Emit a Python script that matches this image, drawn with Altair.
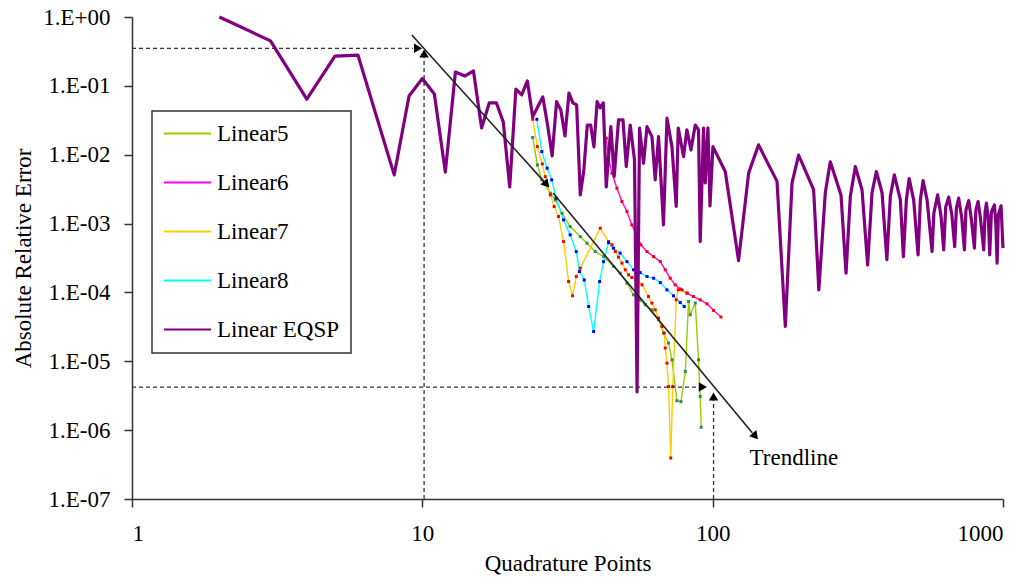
import altair as alt
import pandas as pd

# ---------------- data ----------------
eqsp_n = [2, 3, 4, 5, 6, 8, 9, 10, 11, 12, 13, 14, 15, 16, 17, 18, 19, 20, 21, 22, 23, 24, 25, 26, 27, 28, 29, 30,
          31, 32, 33, 34, 35, 36, 37, 38, 39, 40, 41, 42, 43,
          44.6, 45.8, 47.4, 49.1, 50.4, 52.0, 53.8, 54.9, 56.0, 57.8, 59.4, 61.8, 63.4, 65.1, 67.7, 69.6, 72.4, 74.9,
          76.1, 79.4, 81.5, 84.2, 87.1, 89.4, 90.6, 93.0, 94.3, 96.3, 97.9, 100.2,
          110.5, 122.8, 133.0, 143.9, 166.6, 177.9, 187.6, 197.7, 222.7, 232.1, 244.3, 254.2, 276.7, 288.0, 298.0,
          310.0, 326.9, 341.8, 353.9, 366.2, 383.2, 398.1, 409.3, 422.5, 443.1, 453.8, 464.7, 475.2, 492.4, 509.9,
          519.3, 530.6, 547.7, 569.8,
          578, 595.7, 612, 624.8, 634.8, 650, 666.6, 681.7, 691, 703.7, 721, 736.3, 745.5, 761.9, 778.6, 797.1,
          806.6, 820.8, 836, 858.1, 867.6, 876.7, 890.7, 900, 912, 934.1, 945.2, 954.3, 964, 984.9, 1000]
eqsp_err = [1.0, 0.45, 0.064, 0.27, 0.28, 0.0051, 0.0713, 0.128, 0.0763, 0.0056, 0.159, 0.139, 0.165, 0.0245,
            0.0565, 0.0565, 0.030, 0.0034, 0.090, 0.074, 0.118, 0.0354, 0.05, 0.069, 0.027, 0.0096, 0.059, 0.0447,
            0.0187, 0.0788, 0.0565, 0.0528, 0.0026, 0.006, 0.027, 0.027, 0.013, 0.059, 0.0478, 0.0565, 0.0034,
            0.0256, 0.0048, 0.032, 0.032, 0.0067, 0.027, 0.0084, 3.6e-6, 0.0243, 0.0075, 0.0256, 0.0183, 0.0043,
            0.0183, 0.00096, 0.0339, 0.0131, 0.00177, 0.0243, 0.0094, 0.0229, 0.0117, 0.027, 0.0229, 0.00055,
            0.0243, 0.0039, 0.0245, 0.0018, 0.0131,
            0.0057, 0.00029, 0.0054, 0.0139, 0.0041, 3.2e-5, 0.00386, 0.0099, 0.0031, 0.000109, 0.0028, 0.0079,
            0.0026, 0.00019, 0.0025, 0.0067, 0.0031, 0.00025, 0.0028, 0.0057, 0.0028, 0.0003, 0.0025, 0.0051,
            0.0022, 0.00033, 0.0022, 0.0045, 0.0022, 0.00035, 0.0022, 0.0042, 0.0022, 0.000393,
            0.00143, 0.00261, 0.00126, 0.000415, 0.00174, 0.00242, 0.00134, 0.000463, 0.00168, 0.00234, 0.00121,
            0.000415, 0.00158, 0.00216, 0.00113, 0.00044, 0.00158, 0.00209, 0.00121, 0.000415, 0.00147, 0.00198,
            0.00113, 0.000352, 0.00147, 0.00187, 0.000957, 0.000266, 0.00134, 0.00181, 0.00044]

lin5_n = [24.0, 24.9, 25.8, 27.6, 28.7, 30.3, 32.3, 35.0, 36.9, 39.4, 42.1, 45.6, 48.0, 50.7, 53.4, 56.0, 58.6,
          61.8, 65.1, 67.7, 70.5, 72.4, 75.3, 77.8, 80.5, 82.6, 83.7, 87.1, 89.4, 90.6, 91.3]
lin5_err = [0.0178, 0.00711, 0.00431, 0.00276, 0.00221, 0.00141, 0.000903, 0.000647, 0.000519, 0.000392,
            0.000331, 0.000238, 0.000191, 0.000136, 9.23e-5, 7.81e-5, 6.61e-5, 5.59e-5, 4.0e-5, 2.57e-5,
            1.84e-5, 1.05e-5, 2.67e-6, 2.6e-6, 7.1e-6, 7.37e-5, 4.73e-5, 7.0e-5, 1.05e-5, 3.08e-6, 1.1e-6]

lin6_n = [43.0, 43.8, 45.0, 46.8, 48.7, 50.7, 52.7, 54.6, 56.6, 59.4, 62.6, 66.0, 68.65, 71.4, 74.3, 77.3,
          81.5, 85.9, 90.6, 95.6, 100.7, 106.8]
lin6_err = [0.0174, 0.00889, 0.00539, 0.00326, 0.00209, 0.00149, 0.000957, 0.000686, 0.000491, 0.000392,
            0.000331, 0.00028, 0.000213, 0.000161, 0.000129, 0.000112, 9.77e-5, 8.72e-5, 7.81e-5, 6.83e-5,
            5.46e-5, 4.4e-5]

lin7_n = [24.0, 24.9, 25.9, 26.5, 27.6, 28.45, 29.45, 30.65, 31.9, 32.9, 33.9, 35.0, 41.0, 43.8, 45.0, 46.2,
          47.4, 48.7, 50.0, 51.3, 52.7, 54.9, 57.1, 60.1, 61.8, 63.4, 65.1, 66.9, 68.1, 68.65, 69.6, 70.5, 71.7,
          72.9, 74.9, 76.1, 78.4, 81.7]
lin7_err = [0.0327, 0.0131, 0.00735, 0.00481, 0.00261, 0.00177, 0.00127, 0.000548, 0.000144, 8.93e-5, 0.00017,
            0.000225, 0.000857, 0.000548, 0.000491, 0.000392, 0.000325, 0.000267, 0.000213, 0.00018, 0.000165,
            0.000152, 0.000129, 8.72e-5, 7.0e-5, 5.59e-5, 4.24e-5, 3.2e-5, 2.57e-5, 1.56e-5, 9.4e-6, 4.3e-6,
            3.94e-7, 4.3e-6, 7.81e-5, 0.000109, 0.000109, 9.77e-5]

lin8_n = [24.8, 25.8, 26.9, 27.9, 28.9, 30.65, 32.3, 33.9, 34.8, 36.1, 37.4, 38.9, 40.8, 42.1, 43.8, 45.55, 48.0,
          50.7, 53.4, 56.3, 59.4, 62.6, 66.0, 69.6, 73.3, 77.3, 79.8]
lin8_err = [0.0327, 0.0111, 0.00637, 0.00431, 0.00234, 0.00113, 0.000686, 0.000392, 0.000201, 0.000152, 6.24e-5,
            2.71e-5, 0.000144, 0.00028, 0.00053, 0.000439, 0.000372, 0.00028, 0.000213, 0.000194, 0.00017,
            0.000161, 0.000139, 0.000109, 8.93e-5, 7.13e-5, 6.24e-5]

series_names = ["Linear5", "Linear6", "Linear7", "Linear8", "Linear EQSP"]
line_colors = ["#99CC00", "#FF00FF", "#FFCC00", "#00FFFF", "#800080"]
dot_colors = ["#2E8B57", "#FF0000", "#FF0000", "#0000FF"]

# reading guides (dashed) and trend arrows
guide_id = ["h1", "h1", "v1", "v1", "h2", "h2", "v2", "v2"]
guide_n = [1, 9.28, 10.14, 10.14, 1, 89.2, 100.7, 100.7]
guide_err = [0.351, 0.351, 1e-7, 0.263, 4.22e-6, 4.22e-6, 1e-7, 2.76e-6]

trend_id = ["t1", "t1", "t2", "t2"]
trend_n = [9.2, 26.3, 28.2, 136.9]
trend_err = [0.548, 0.00403, 0.00279, 9.16e-7]

head_n = [9.67, 10.14, 92.5, 100.7, 26.8, 140.3]
head_err = [0.351, 0.295, 4.22e-6, 3.08e-6, 0.00371, 8.16e-7]
head_angle = [0, 270, 0, 270, 48, 50]

label_n = [134.0]
label_err = [3.15e-7]
label_text = ["Trendline"]

# ---------------- tables ----------------
frames = []
for name, ns, es, dc in [("Linear5", lin5_n, lin5_err, dot_colors[0]),
                         ("Linear6", lin6_n, lin6_err, dot_colors[1]),
                         ("Linear7", lin7_n, lin7_err, dot_colors[2]),
                         ("Linear8", lin8_n, lin8_err, dot_colors[3])]:
    f = pd.DataFrame({"N": ns, "err": es})
    f["series"] = name
    f["idx"] = range(len(f))
    f["dot"] = dc
    frames.append(f)
df_lin = pd.concat(frames, ignore_index=True)

df_eq = pd.DataFrame({"N": eqsp_n, "err": eqsp_err})
df_eq["series"] = "Linear EQSP"
df_eq["idx"] = range(len(df_eq))

df_guide = pd.DataFrame({"gid": guide_id, "N": guide_n, "err": guide_err})
df_guide["idx"] = range(len(df_guide))
df_trend = pd.DataFrame({"gid": trend_id, "N": trend_n, "err": trend_err})
df_trend["idx"] = range(len(df_trend))
df_head = pd.DataFrame({"N": head_n, "err": head_err, "angle": head_angle})
df_label = pd.DataFrame({"N": label_n, "err": label_err, "text": label_text})

FONT = "Liberation Serif"

x_enc = alt.X("N:Q",
              scale=alt.Scale(type="log", domain=[1, 1000], nice=False),
              axis=alt.Axis(values=[1, 10, 100, 1000], format="d", title="Quadrature Points",
                            grid=False, tickSize=8, labelPadding=15,
                            titleY=71, titleBaseline="alphabetic"))
y_enc = alt.Y("err:Q",
              scale=alt.Scale(type="log", domain=[1e-7, 1], nice=False),
              axis=alt.Axis(values=[1, 1e-1, 1e-2, 1e-3, 1e-4, 1e-5, 1e-6, 1e-7],
                            labelExpr="datum.value >= 0.99 ? '1.E+00' : '1.E-0' + round(-log(datum.value)/LN10)",
                            title="Absolute Relative Error", grid=False, tickSize=8, labelPadding=14,
                            titleX=-102, titleY=241, titleAngle=270, titleBaseline="alphabetic",
                            titleAlign="center"))

color_scale = alt.Scale(domain=series_names, range=line_colors)
legend = alt.Legend(title=None, orient="none", legendX=20, legendY=94,
                    symbolType="M-2.35,0H2.35", symbolSize=400, symbolStrokeWidth=2.2,
                    symbolOffset=13, labelOffset=18, rowPadding=25, padding=11,
                    labelFont=FONT, labelFontSize=23, labelColor="black", labelLimit=0,
                    strokeColor="#333333", fillColor="white")

lin_lines = alt.Chart(df_lin).mark_line(strokeWidth=1.4, strokeJoin="round").encode(
    x=x_enc, y=y_enc,
    color=alt.Color("series:N", scale=color_scale, legend=legend),
    order="idx:Q")

lin_dots = alt.Chart(df_lin).mark_square(size=9, opacity=1).encode(
    x=x_enc, y=y_enc, color=alt.Color("dot:N", scale=None))

eq_line = alt.Chart(df_eq).mark_line(strokeWidth=3.2, strokeJoin="round").encode(
    x=x_enc, y=y_enc,
    color=alt.Color("series:N", scale=color_scale, legend=legend),
    order="idx:Q")

guides = alt.Chart(df_guide).mark_line(color="#333333", strokeWidth=1.3, strokeDash=[4, 3]).encode(
    x=x_enc, y=y_enc, detail="gid:N", order="idx:Q")

trend = alt.Chart(df_trend).mark_line(color="#222222", strokeWidth=1.6).encode(
    x=x_enc, y=y_enc, detail="gid:N", order="idx:Q")

heads = alt.Chart(df_head).mark_point(shape="triangle-right", filled=True, color="black",
                                      size=90, opacity=1).encode(
    x=x_enc, y=y_enc, angle=alt.Angle("angle:Q", scale=None))

label = alt.Chart(df_label).mark_text(align="left", baseline="alphabetic", font=FONT, fontSize=23,
                                      color="black").encode(x=x_enc, y=y_enc, text="text:N")

chart = alt.layer(lin_lines, lin_dots, eq_line, guides, trend, heads, label).properties(
    width=871, height=482,
    padding={"left": 132, "top": 17, "right": 31, "bottom": 78},
    autosize=alt.AutoSizeParams(type="none"),
    background="white",
).configure_view(stroke=None).configure_axis(
    domainColor="#333333", domainWidth=1.5, tickColor="#333333", tickWidth=1.5,
    labelFont=FONT, labelFontSize=23, labelColor="black",
    titleFont=FONT, titleFontSize=23, titleColor="black", titleFontWeight="normal",
).configure_legend(strokeWidth=1.5, labelFont=FONT, labelFontSize=23, labelColor="black")

chart.save("out.html", embed_options={"renderer": "svg", "actions": False})
